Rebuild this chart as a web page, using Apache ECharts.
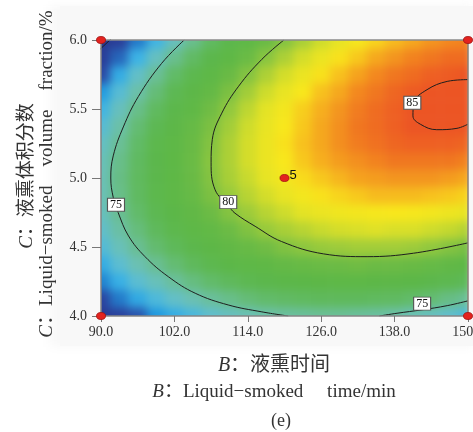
<!DOCTYPE html>
<html lang="zh-CN">
<head>
<meta charset="utf-8">
<title>液熏时间与液熏体积分数 等高线图 (e)</title>
<script src="https://cdn.jsdelivr.net/npm/echarts@6/dist/echarts.min.js"></script>
</head>
<body style="margin:0;background:#fff">
<div id="main" style="width:473px;height:432px"></div>
<script>
// B: liquid-smoked time (min), C: liquid-smoked volume fraction (%)
var timeTicks = [90, 102, 114, 126, 138, 150];
var fractionTicks = [4.0, 4.5, 5.0, 5.5, 6.0];

// sampling steps of the surface (columns = time, rows = fraction, bottom to top)
var timeSteps = [90, 93, 96, 99, 102, 105, 108, 111, 114, 117, 120, 123, 126, 129, 132, 135, 138, 141, 144, 147, 150];
var fractionSteps = [4.0, 4.125, 4.25, 4.375, 4.5, 4.625, 4.75, 4.875, 5.0, 5.125, 5.25, 5.375, 5.5, 5.625, 5.75, 5.875, 6.0];

var responseRows = [
  [70.0, 70.8, 71.5, 72.2, 72.8, 73.3, 73.8, 74.2, 74.5, 74.8, 75.0, 75.1, 75.2, 75.2, 75.1, 75.0, 74.8, 74.5, 74.2, 73.8, 73.4],
  [71.1, 71.9, 72.7, 73.4, 74.0, 74.6, 75.1, 75.5, 75.9, 76.2, 76.4, 76.6, 76.7, 76.7, 76.7, 76.6, 76.5, 76.2, 76.0, 75.6, 75.2],
  [72.0, 72.9, 73.7, 74.4, 75.1, 75.7, 76.2, 76.7, 77.1, 77.5, 77.7, 77.9, 78.1, 78.2, 78.2, 78.1, 78.0, 77.8, 77.5, 77.2, 76.8],
  [72.8, 73.7, 74.6, 75.3, 76.0, 76.7, 77.3, 77.8, 78.2, 78.6, 78.9, 79.1, 79.3, 79.4, 79.5, 79.4, 79.4, 79.2, 79.0, 78.7, 78.4],
  [73.5, 74.4, 75.3, 76.1, 76.8, 77.5, 78.1, 78.7, 79.1, 79.5, 79.9, 80.2, 80.4, 80.5, 80.6, 80.6, 80.6, 80.5, 80.3, 80.0, 79.7],
  [73.9, 74.9, 75.8, 76.7, 77.4, 78.2, 78.8, 79.4, 79.9, 80.4, 80.7, 81.0, 81.3, 81.5, 81.6, 81.7, 81.6, 81.6, 81.4, 81.2, 80.9],
  [74.3, 75.3, 76.2, 77.1, 77.9, 78.7, 79.4, 80.0, 80.5, 81.0, 81.4, 81.8, 82.1, 82.3, 82.4, 82.5, 82.6, 82.5, 82.4, 82.2, 82.0],
  [74.5, 75.5, 76.5, 77.4, 78.3, 79.0, 79.8, 80.4, 81.0, 81.5, 82.0, 82.4, 82.7, 82.9, 83.1, 83.3, 83.3, 83.3, 83.2, 83.1, 82.9],
  [74.5, 75.6, 76.6, 77.5, 78.4, 79.2, 80.0, 80.7, 81.3, 81.9, 82.4, 82.8, 83.1, 83.4, 83.7, 83.8, 83.9, 83.9, 83.9, 83.8, 83.6],
  [74.4, 75.5, 76.5, 77.5, 78.4, 79.3, 80.1, 80.8, 81.5, 82.1, 82.6, 83.1, 83.5, 83.8, 84.0, 84.2, 84.4, 84.4, 84.4, 84.4, 84.2],
  [74.1, 75.2, 76.3, 77.4, 78.3, 79.2, 80.0, 80.8, 81.5, 82.1, 82.7, 83.2, 83.6, 84.0, 84.3, 84.5, 84.7, 84.8, 84.8, 84.8, 84.7],
  [73.6, 74.8, 76.0, 77.0, 78.0, 79.0, 79.8, 80.6, 81.4, 82.0, 82.6, 83.1, 83.6, 84.0, 84.4, 84.6, 84.8, 85.0, 85.0, 85.0, 85.0],
  [73.1, 74.3, 75.5, 76.6, 77.6, 78.6, 79.5, 80.3, 81.1, 81.8, 82.4, 83.0, 83.5, 83.9, 84.3, 84.6, 84.8, 85.0, 85.1, 85.2, 85.1],
  [72.3, 73.6, 74.8, 75.9, 77.0, 78.0, 78.9, 79.8, 80.6, 81.4, 82.0, 82.6, 83.2, 83.6, 84.1, 84.4, 84.7, 84.9, 85.0, 85.1, 85.1],
  [71.4, 72.8, 74.0, 75.2, 76.3, 77.3, 78.3, 79.2, 80.0, 80.8, 81.5, 82.1, 82.7, 83.2, 83.7, 84.1, 84.4, 84.6, 84.8, 84.9, 85.0],
  [70.4, 71.7, 73.0, 74.2, 75.4, 76.4, 77.5, 78.4, 79.3, 80.1, 80.8, 81.5, 82.1, 82.7, 83.1, 83.6, 83.9, 84.2, 84.4, 84.6, 84.6],
  [69.2, 70.6, 71.9, 73.1, 74.3, 75.4, 76.5, 77.5, 78.4, 79.2, 80.0, 80.7, 81.4, 81.9, 82.5, 82.9, 83.3, 83.6, 83.9, 84.1, 84.2]
];

// contour lines, [time, fraction]
var contour70 = [[89.9, 5.935], [91.7, 6.01]];
var contour75Left = [[103.6, 6.0], [99.9, 5.83], [96.1, 5.59], [93.65, 5.37], [92.0, 5.16], [91.6, 5.0], [92.0, 4.86], [92.8, 4.75], [94.5, 4.58], [97.2, 4.43], [101.0, 4.285], [105.4, 4.165], [110.8, 4.08], [116.3, 4.03], [120.6, 4.0]];
var contour75Right = [[135.5, 4.0], [138.4, 4.02], [142.5, 4.045], [146.6, 4.075], [150, 4.11]];
var contour80 = [[119.9, 6.0], [116.3, 5.86], [112.5, 5.665], [109.75, 5.47], [108.2, 5.28], [108.0, 5.11], [108.65, 4.915], [110.8, 4.80], [111.9, 4.745], [115.2, 4.65], [119.5, 4.54], [126.4, 4.45], [133.5, 4.43], [141.1, 4.455], [150, 4.53]];
var contour85 = [[150, 5.713], [146.6, 5.70], [143.3, 5.64], [141.2, 5.55], [141.0, 5.45], [142.2, 5.39], [144.9, 5.35], [148.2, 5.36], [150, 5.39]];
var contourLabels = [[92.45, 4.806, '75'], [110.8, 4.825, '80'], [140.9, 5.545, '85'], [142.5, 4.09, '75']];

// design points, the centre point has 5 replicates
var designPoints = [[90, 6.0], [150, 6.0], [90, 4.0], [150, 4.0], [120, 5.0]];
var centreRuns = 5;

var serif = '"Liberation Serif", "Noto Sans CJK SC", serif';
var panel = '#f8f8f8';

var cells = [];
responseRows.forEach(function (row, j) {
  row.forEach(function (v, i) { cells.push([i, j, v]); });
});

var chart = echarts.init(document.getElementById('main'), null, { renderer: 'canvas' });

function contourSeries(data) {
  return {
    type: 'line', xAxisIndex: 0, yAxisIndex: 0, data: data, smooth: 0.4,
    symbol: 'none', zlevel: 1, z: 5, silent: true,
    lineStyle: { color: '#1e1e1e', width: 1 }
  };
}

function titleText(x, y, rot, size, letter, rest) {
  return {
    type: 'text', x: x, y: y, rotation: rot, zlevel: 1, z: 10, silent: true,
    style: {
      text: '{i|' + letter + '}{n|' + rest + '}',
      align: 'center', verticalAlign: 'middle',
      rich: {
        i: { fontFamily: serif, fontStyle: 'italic', fontSize: size, fill: '#333' },
        n: { fontFamily: serif, fontSize: size, fill: '#333' }
      }
    }
  };
}

function mask(x, y, w, h) {
  return { type: 'rect', zlevel: 1, z: 3, silent: true, shape: { x: x, y: y, width: w, height: h }, style: { fill: panel } };
}

var option = {
  animation: false,
  backgroundColor: '#fff',
  grid: [
    { left: 101, right: 5, top: 40, bottom: 116, outerBoundsMode: 'none', containLabel: false },
    // heatmap cells centred on the sample steps, half a cell wider on each side
    { left: 91.825, width: 385.35, top: 31.375, height: 293.25, outerBoundsMode: 'none', containLabel: false }
  ],
  xAxis: [
    {
      type: 'value', gridIndex: 0, zlevel: 1, z: 10,
      min: timeTicks[0], max: timeTicks[timeTicks.length - 1], interval: timeTicks[1] - timeTicks[0],
      axisLine: { lineStyle: { color: '#858585', width: 1.5 } },
      axisTick: { length: 6, lineStyle: { color: '#777' } },
      axisLabel: { margin: 9, color: '#333', fontFamily: serif, fontSize: 14, formatter: function (v) { return v.toFixed(1); } },
      splitLine: { show: false }
    },
    { type: 'category', gridIndex: 1, data: timeSteps, show: false },
    {
      type: 'value', gridIndex: 0, position: 'top', zlevel: 1, z: 10,
      min: timeTicks[0], max: timeTicks[timeTicks.length - 1],
      axisLine: { lineStyle: { color: '#8a8a8a', width: 1.5 } },
      axisTick: { show: false }, axisLabel: { show: false }, splitLine: { show: false }
    }
  ],
  yAxis: [
    {
      type: 'value', gridIndex: 0, zlevel: 1, z: 10,
      min: fractionTicks[0], max: fractionTicks[fractionTicks.length - 1], interval: fractionTicks[1] - fractionTicks[0],
      axisLine: { lineStyle: { color: '#858585', width: 1.5 } },
      axisTick: { length: 9, lineStyle: { color: '#777' } },
      axisLabel: { margin: 14, color: '#333', fontFamily: serif, fontSize: 14, formatter: function (v) { return v.toFixed(1); } },
      splitLine: { show: false }
    },
    { type: 'category', gridIndex: 1, data: fractionSteps, show: false },
    {
      type: 'value', gridIndex: 0, position: 'right', zlevel: 1, z: 10,
      min: fractionTicks[0], max: fractionTicks[fractionTicks.length - 1],
      axisLine: { lineStyle: { color: '#8a7f76', width: 1.5 } },
      axisTick: { show: false }, axisLabel: { show: false }, splitLine: { show: false }
    }
  ],
  visualMap: {
    type: 'continuous', show: false, seriesIndex: 0, dimension: 2,
    min: 69, max: 85,
    inRange: {
      color: ['#273890', '#283a93', '#2a3e98', '#2b48a3', '#1e98df', '#3cb3e6', '#60bece', '#6bc0b2',
        '#69be8e', '#62bb6a', '#5db853', '#5cb748', '#5fb846', '#6cbb45', '#8cc63f', '#b8d433',
        '#e4e325', '#f8e71c', '#f6b51e', '#f2821f', '#ec5524']
    }
  },
  graphic: [
    { type: 'rect', zlevel: 0, z: 0, silent: true, shape: { x: 50, y: 5, width: 423, height: 342 }, style: { fill: panel } },
    mask(60, 6, 41, 340),
    mask(60, 6, 413, 34),
    mask(60, 316, 413, 30),
    mask(468, 6, 5, 340),
    titleText(274, 366, 0, 20, 'B', '：液熏时间'),
    titleText(274, 392, 0, 19, 'B', '：Liquid−smoked     time/min'),
    {
      type: 'text', x: 281, y: 421, zlevel: 1, z: 10, silent: true,
      style: { text: '(e)', align: 'center', verticalAlign: 'middle', fontFamily: serif, fontSize: 18, fill: '#333' }
    },
    titleText(27, 176, Math.PI / 2, 19, 'C', '：液熏体积分数'),
    titleText(47, 174, Math.PI / 2, 19, 'C', '：Liquid−smoked    volume    fraction/%')
  ],
  series: [
    {
      type: 'heatmap', xAxisIndex: 1, yAxisIndex: 1, data: cells, zlevel: 0, z: 2, silent: true,
      progressive: 0
    },
    contourSeries(contour70),
    contourSeries(contour75Left),
    contourSeries(contour75Right),
    contourSeries(contour80),
    contourSeries(contour85),
    {
      type: 'scatter', xAxisIndex: 0, yAxisIndex: 0, zlevel: 1, z: 6, silent: true,
      data: contourLabels, symbol: 'rect', symbolSize: [17, 13],
      itemStyle: { color: '#fff', borderColor: '#555', borderWidth: 1, opacity: 1 },
      label: {
        show: true, position: 'inside', color: '#111', fontFamily: serif, fontSize: 12,
        formatter: function (p) { return p.value[2]; }
      }
    },
    {
      type: 'scatter', xAxisIndex: 0, yAxisIndex: 0, zlevel: 1, z: 12, silent: true, clip: false,
      symbol: 'circle', symbolSize: [9, 7],
      itemStyle: { color: '#e3231f', borderColor: '#a01212', borderWidth: 0.8, opacity: 1 },
      data: designPoints.map(function (p, k) {
        var item = { value: p };
        if (k === designPoints.length - 1) {
          item.label = {
            show: true, position: 'right', distance: 0, offset: [0, -3],
            formatter: String(centreRuns), color: '#111', fontFamily: 'Liberation Sans', fontSize: 13
          };
        }
        return item;
      })
    }
  ]
};

chart.setOption(option);

// soften the cell edges of the surface layer, like the shaded original
var surfaceLayer = document.querySelector('#main canvas[data-zr-dom-id="zr_0"]');
if (surfaceLayer) { surfaceLayer.style.filter = 'blur(5px)'; }
</script>
</body>
</html>
